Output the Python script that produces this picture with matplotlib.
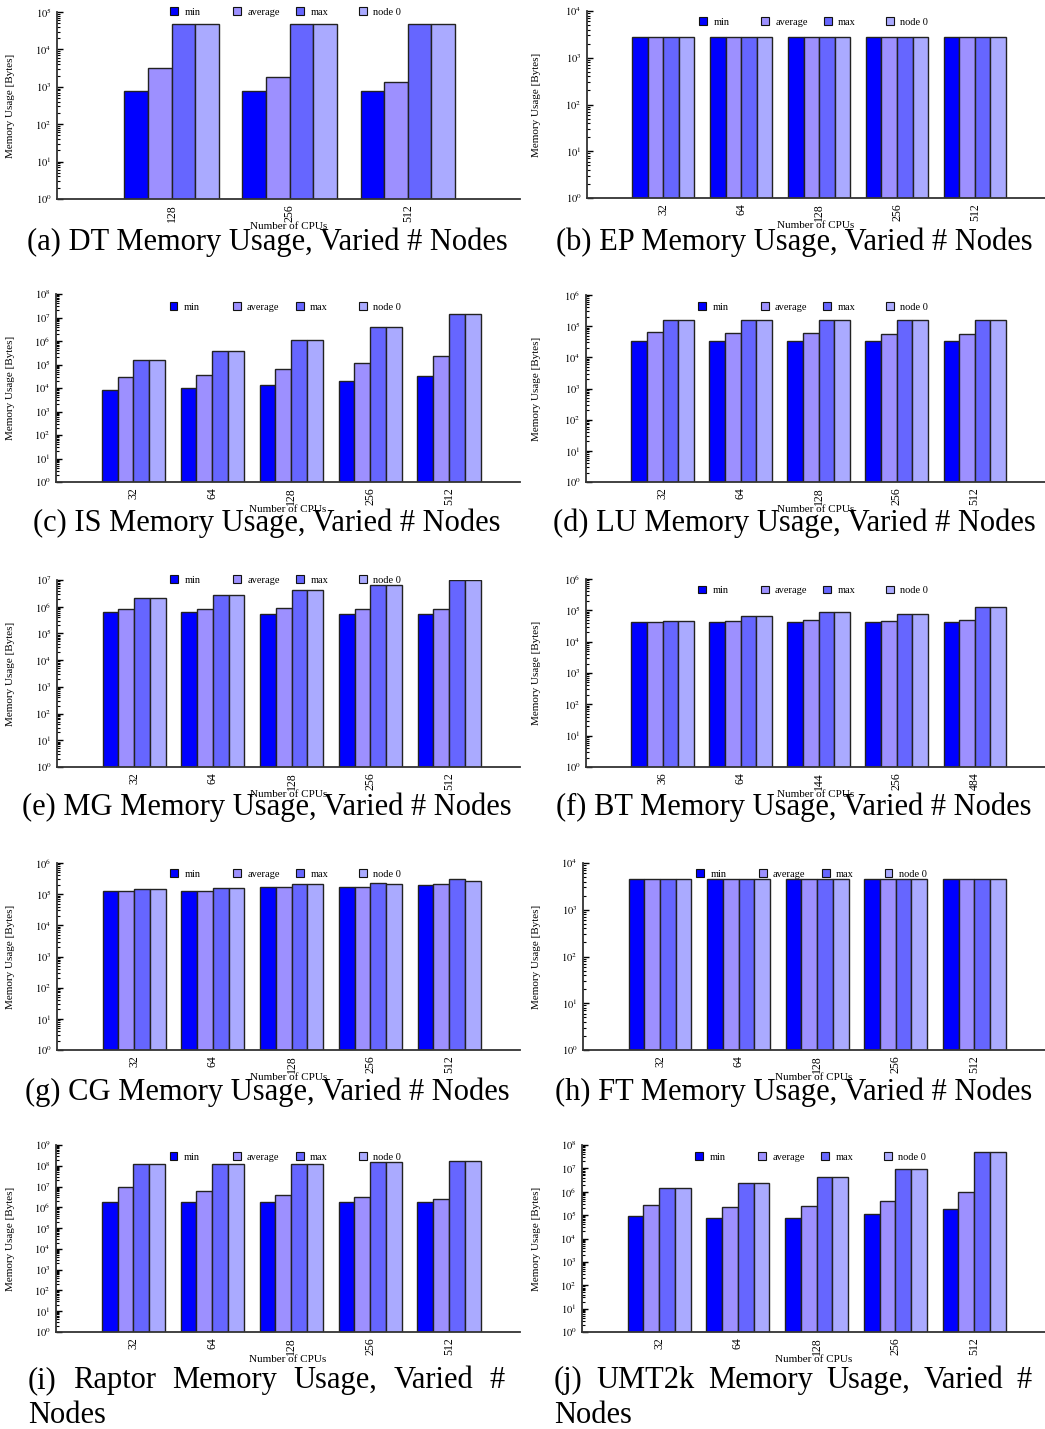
import matplotlib
matplotlib.use("Agg")
import matplotlib.pyplot as plt
from matplotlib.ticker import LogLocator, NullFormatter, FixedLocator
from matplotlib.patches import Patch
from matplotlib.legend import Legend
import numpy as np

plt.rcParams['font.family'] = ['Liberation Serif', 'DejaVu Serif']
plt.rcParams['mathtext.fontset'] = 'stix'

W, H = 1045, 1429

series_names = ["min", "average", "max", "node 0"]
series_colors = ["#0000ff", "#9d90ff", "#6666ff", "#aaaaff"]

# ---- data (Bytes) ----
dt_cpus = ["128", "256", "512"]
dt_min = [760, 760, 760]
dt_avg = [3090, 1870, 1320]
dt_max = [47800, 47800, 47800]
dt_node0 = [47800, 47800, 47800]

ep_cpus = ["32", "64", "128", "256", "512"]
ep_min = [2800, 2800, 2800, 2800, 2800]
ep_avg = [2800, 2800, 2800, 2800, 2800]
ep_max = [2820, 2820, 2820, 2820, 2820]
ep_node0 = [2820, 2820, 2820, 2820, 2820]

is_cpus = ["32", "64", "128", "256", "512"]
is_min = [8200, 9700, 13000, 19900, 31500]
is_avg = [28600, 37100, 62700, 113000, 233000]
is_max = [157000, 380000, 1.09e6, 3.77e6, 1.4e7]
is_node0 = [157000, 380000, 1.09e6, 3.77e6, 1.4e7]

lu_cpus = ["32", "64", "128", "256", "512"]
lu_min = [32500, 32500, 32500, 32500, 32500]
lu_avg = [66500, 60200, 61700, 57400, 57400]
lu_max = [154000, 154000, 154000, 154000, 154000]
lu_node0 = [154000, 154000, 154000, 154000, 154000]

mg_cpus = ["32", "64", "128", "256", "512"]
mg_min = [614000, 614000, 531000, 531000, 531000]
mg_avg = [841000, 841000, 869000, 794000, 841000]
mg_max = [2.11e6, 2.74e6, 4.22e6, 6.49e6, 1.0e7]
mg_node0 = [2.11e6, 2.74e6, 4.22e6, 6.49e6, 1.0e7]

bt_cpus = ["36", "64", "144", "256", "484"]
bt_min = [42700, 42700, 42700, 42700, 42700]
bt_avg = [43800, 46000, 48300, 44900, 49600]
bt_max = [47200, 65000, 87300, 79100, 129000]
bt_node0 = [47200, 65000, 87300, 79100, 129000]

cg_cpus = ["32", "64", "128", "256", "512"]
cg_min = [124000, 124000, 166000, 166000, 197000]
cg_avg = [130000, 130000, 166000, 166000, 208000]
cg_max = [151000, 154000, 208000, 224000, 300000]
cg_node0 = [151000, 154000, 208000, 213000, 265000]

ft_cpus = ["32", "64", "128", "256", "512"]
ft_min = [4480, 4480, 4480, 4480, 4480]
ft_avg = [4480, 4480, 4480, 4480, 4480]
ft_max = [4500, 4500, 4500, 4500, 4500]
ft_node0 = [4500, 4500, 4500, 4500, 4500]

raptor_cpus = ["32", "64", "128", "256", "512"]
raptor_min = [1.83e6, 1.83e6, 1.83e6, 1.83e6, 1.83e6]
raptor_avg = [9.6e6, 5.95e6, 3.96e6, 3.06e6, 2.55e6]
raptor_max = [1.18e8, 1.18e8, 1.27e8, 1.48e8, 1.71e8]
raptor_node0 = [1.18e8, 1.18e8, 1.27e8, 1.48e8, 1.71e8]

umt_cpus = ["32", "64", "128", "256", "512"]
umt_min = [96000, 73800, 73800, 109000, 185000]
umt_avg = [265000, 233000, 240000, 420000, 984000]
umt_max = [1.41e6, 2.38e6, 4.16e6, 9.14e6, 4.86e7]
umt_node0 = [1.41e6, 2.38e6, 4.16e6, 9.14e6, 4.86e7]

panels = [
    # cpus, series, ymax exponent, axes px (l, t, r, b), legend y frac, caption
    (dt_cpus, [dt_min, dt_avg, dt_max, dt_node0], 5, (57, 12, 520, 199), 1.0,
     "(a) DT Memory Usage, Varied # Nodes"),
    (ep_cpus, [ep_min, ep_avg, ep_max, ep_node0], 4, (587, 11, 1045, 198), 0.94,
     "(b) EP Memory Usage, Varied # Nodes"),
    (is_cpus, [is_min, is_avg, is_max, is_node0], 8, (56, 294, 520, 482), 0.93,
     "(c) IS Memory Usage, Varied # Nodes"),
    (lu_cpus, [lu_min, lu_avg, lu_max, lu_node0], 6, (586, 295, 1045, 482), 0.935,
     "(d) LU Memory Usage, Varied # Nodes"),
    (mg_cpus, [mg_min, mg_avg, mg_max, mg_node0], 7, (57, 580, 520, 767), 1.0,
     "(e) MG Memory Usage, Varied # Nodes"),
    (bt_cpus, [bt_min, bt_avg, bt_max, bt_node0], 6, (586, 579, 1045, 767), 0.94,
     "(f) BT Memory Usage, Varied # Nodes"),
    (cg_cpus, [cg_min, cg_avg, cg_max, cg_node0], 6, (57, 863, 520, 1050), 0.94,
     "(g) CG Memory Usage, Varied # Nodes"),
    (ft_cpus, [ft_min, ft_avg, ft_max, ft_node0], 4, (583, 863, 1045, 1050), 0.94,
     "(h) FT Memory Usage, Varied # Nodes"),
    (raptor_cpus, [raptor_min, raptor_avg, raptor_max, raptor_node0], 9, (56, 1145, 520, 1332), 0.935,
     "(i) Raptor Memory Usage, Varied # Nodes"),
    (umt_cpus, [umt_min, umt_avg, umt_max, umt_node0], 8, (582, 1145, 1045, 1332), 0.935,
     "(j) UMT2k Memory Usage, Varied # Nodes"),
]

caption_baselines = [250, 250, 531, 531, 815, 815, 1100, 1100]
caption_centers = [267, 794]
CAP_FS = 22

fig = plt.figure(figsize=(W / 100, H / 100), dpi=100)

bar_w = 0.2
offsets = [-0.3, -0.1, 0.1, 0.3]

for idx, (cpus, series, ymaxexp, (l, t, r, b), legy, caption) in enumerate(panels):
    ax = fig.add_axes([l / W, 1 - b / H, (r - l) / W, (b - t) / H])
    x = np.arange(len(cpus))
    for s, (vals, col) in enumerate(zip(series, series_colors)):
        ax.bar(x + offsets[s], vals, width=bar_w, color=col, edgecolor="#222222",
               linewidth=1.0)
    ax.set_yscale("log")
    ax.set_ylim(1, 10 ** ymaxexp)
    if len(cpus) == 3:
        ax.set_xlim(-0.97, 2.95)
    else:
        ax.set_xlim(-0.98, 4.9)
    ax.set_xticks(x)
    ax.set_xticklabels(cpus, rotation=90, fontsize=8.5)
    ax.tick_params(axis="x", length=0, pad=4)
    ax.yaxis.set_major_locator(FixedLocator([10 ** k for k in range(ymaxexp + 1)]))
    ax.set_yticklabels([r"$10^{%d}$" % k for k in range(ymaxexp + 1)])
    ax.yaxis.set_minor_locator(LogLocator(base=10, subs=np.arange(2, 10), numticks=100))
    ax.yaxis.set_minor_formatter(NullFormatter())
    ax.tick_params(axis="y", which="major", direction="in", length=4, width=1, labelsize=7.5, pad=4)
    ax.tick_params(axis="y", which="minor", direction="in", length=2, width=0.8)
    for sp in ["top", "right"]:
        ax.spines[sp].set_visible(False)
    for sp in ["left", "bottom"]:
        ax.spines[sp].set_color("#333333")
        ax.spines[sp].set_linewidth(1.3)
    ax.set_ylabel("Memory Usage [Bytes]", fontsize=8)
    ylab_x = 15 if l < 300 else 541
    ax.yaxis.set_label_coords((ylab_x - l) / (r - l), 0.5)
    ax.text(0.5, -27.5 / (b - t), "Number of CPUs", transform=ax.transAxes,
            ha="center", va="center", fontsize=8)
    # legend: 4 single-entry legends with equal spacing
    for s in range(4):
        leg = Legend(ax, [Patch(facecolor=series_colors[s], edgecolor="#111111", linewidth=0.8)],
                     [series_names[s]], loc="center left",
                     bbox_to_anchor=(0.245 + s * 0.136, legy), frameon=False,
                     fontsize=7.5, handlelength=0.75, handleheight=0.75,
                     handletextpad=0.6, borderpad=0, borderaxespad=0)
        ax.add_artist(leg)

    col = 0 if l < 300 else 1
    if idx < 8:
        fig.text(caption_centers[col] / W, 1 - caption_baselines[idx] / H, caption,
                 ha="center", va="baseline", fontsize=CAP_FS)

# justified two-line captions for (i) and (j)
fig.canvas.draw()
renderer = fig.canvas.get_renderer()
for cap, (x0, x1) in [(panels[8][5], (28, 505)), (panels[9][5], (554, 1032))]:
    words = cap.split(" ")
    line1 = words[:-1]
    line2 = words[-1]
    texts = [fig.text(0, 1 - 1388 / H, w_, ha="left", va="baseline", fontsize=CAP_FS) for w_ in line1]
    fig.canvas.draw()
    widths = [t_.get_window_extent(renderer).width for t_ in texts]
    gap = ((x1 - x0) - sum(widths)) / (len(texts) - 1)
    xpos = x0
    for t_, wd in zip(texts, widths):
        t_.set_x(xpos / W)
        xpos += wd + gap
    fig.text(x0 / W, 1 - 1423 / H, line2, ha="left", va="baseline", fontsize=CAP_FS)

fig.savefig("out.png", dpi=100)
